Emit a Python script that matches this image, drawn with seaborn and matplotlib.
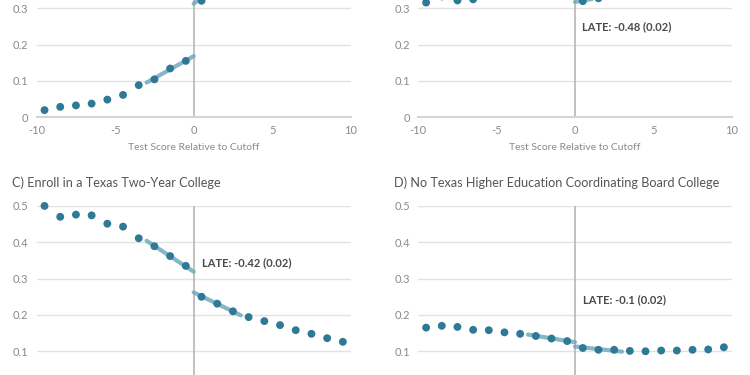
import numpy as np
import pandas as pd
import matplotlib
matplotlib.use('Agg')
import matplotlib.pyplot as plt
import seaborn as sns

###############################################################################
# Data
###############################################################################
BINS = [-9.5, -8.5, -7.5, -6.5, -5.5, -4.5, -3.5, -2.5, -1.5, -0.5,
        0.5, 1.5, 2.5, 3.5, 4.5, 5.5, 6.5, 7.5, 8.5, 9.5]
# A) upper half of the panel is cut off in the reference
A_VAL = [0.019, 0.028, 0.032, 0.037, 0.048, 0.061, 0.088, 0.104, 0.134, 0.155,
         0.321, 0.360, 0.395, 0.420, 0.440, 0.455, 0.468, 0.478, 0.486, 0.492]
A_FIT_L = ([-3, 0], [0.095, 0.168])
A_FIT_R = ([0, 3], [0.313, 0.410])
# B) only the lowest points are visible
B_VAL = [0.316, 0.333, 0.322, 0.325, 0.350, 0.370, 0.390, 0.410, 0.430, 0.450,
         0.320, 0.328, 0.336, 0.350, 0.360, 0.370, 0.380, 0.390, 0.400, 0.410]
B_FIT_L = ([-3, 0], [0.410, 0.460])
B_FIT_R = ([0, 3], [0.318, 0.340])
B_LATE = 'LATE: -0.48 (0.02)'
# C)
C_VAL = [0.500, 0.470, 0.476, 0.474, 0.451, 0.443, 0.411, 0.389, 0.362, 0.335,
         0.250, 0.231, 0.210, 0.194, 0.183, 0.172, 0.158, 0.148, 0.136, 0.126]
C_FIT_L = ([-3, 0], [0.404, 0.319])
C_FIT_R = ([0, 3], [0.262, 0.199])
C_LATE = 'LATE: -0.42 (0.02)'
C_TITLE = 'C) Enroll in a Texas Two-Year College'
# D)
D_VAL = [0.165, 0.170, 0.167, 0.159, 0.158, 0.152, 0.148, 0.142, 0.135, 0.128,
         0.109, 0.104, 0.104, 0.101, 0.100, 0.102, 0.102, 0.104, 0.105, 0.111]
D_FIT_L = ([-3, 0], [0.146, 0.125])
D_FIT_R = ([0, 3], [0.113, 0.099])
D_LATE = 'LATE: -0.1 (0.02)'
D_TITLE = 'D) No Texas Higher Education Coordinating Board College'

XTICKS = [-10, -5, 0, 5, 10]
YTICKS = [0, 0.1, 0.2, 0.3, 0.4, 0.5]
YTICKLABELS = ['0', '0.1', '0.2', '0.3', '0.4', '0.5']
XLABEL = 'Test Score Relative to Cutoff'

###############################################################################
# Style
###############################################################################
sns.set_theme(style='white')
plt.rcParams['font.family'] = ['Lato', 'DejaVu Sans']
(C_DOT, C_FIT, C_GRID, C_TXT) = ('#2e7a96', '#74a9bd', '#e2e2e2', '#8a8a8a')

fig = plt.figure(figsize=(7.5, 3.75), dpi=100)
# top row is cut at its top, bottom row at its bottom (as in the reference)
POS = [
    [0.0489, 0.688, 0.4187, 0.4827],
    [0.5577, 0.688, 0.4179, 0.4827],
    [0.0489, -0.0336, 0.4187, 0.4845],
    [0.5577, -0.0336, 0.4179, 0.4845],
]
PANELS = [
    (A_VAL, A_FIT_L, A_FIT_R, None, None, None, True),
    (B_VAL, B_FIT_L, B_FIT_R, B_LATE, (0.43, 0.249), None, True),
    (C_VAL, C_FIT_L, C_FIT_R, C_LATE, (0.55, 0.344), C_TITLE, False),
    (D_VAL, D_FIT_L, D_FIT_R, D_LATE, (0.50, 0.243), D_TITLE, False),
]

for (pos, (vals, fitL, fitR, late, latePos, title, top)) in zip(POS, PANELS):
    ax = fig.add_axes(pos)
    ax.set_xlim(-10, 10)
    ax.set_ylim(0, 0.5)
    for y in YTICKS[1:]:
        ax.axhline(y, color=C_GRID, lw=1, zorder=0)
    ax.axvline(0, color='#b0b0b0', lw=1.1, zorder=1)
    for fit in (fitL, fitR):
        sns.lineplot(x=fit[0], y=fit[1], ax=ax, color=C_FIT, lw=3, alpha=0.85,
                     zorder=2)
    sns.scatterplot(x=BINS, y=vals, ax=ax, color=C_DOT, s=32,
                    edgecolor='none', zorder=3, clip_on=False)
    # only the labels that fall inside the visible crop
    if top:
        ax.set_yticks(YTICKS[:4])
        ax.set_yticklabels(YTICKLABELS[:4])
        ax.set_xticks(XTICKS)
        ax.set_xticklabels([str(i) for i in XTICKS])
        ax.set_xlabel(XLABEL, fontsize=7.5, color=C_TXT, labelpad=5)
    else:
        ax.set_yticks(YTICKS[1:])
        ax.set_yticklabels(YTICKLABELS[1:])
        ax.set_xticks([])
        ax.set_xlabel('')
    ax.tick_params(length=0, labelsize=8, labelcolor=C_TXT, pad=6)
    ax.set_ylabel('')
    for s in ['top', 'right', 'left']:
        ax.spines[s].set_visible(False)
    ax.spines['bottom'].set_color('#d4d4d4')
    ax.spines['bottom'].set_linewidth(1.5)
    if late:
        ax.text(latePos[0], latePos[1], late, fontsize=8, color='#4a4a4a',
                fontweight='bold', va='center', ha='left')
    if title:
        ax.text(-0.078, 1.125, title, transform=ax.transAxes, fontsize=9.1,
                color='#555555', va='center', ha='left')

fig.savefig('out.png', dpi=100)
